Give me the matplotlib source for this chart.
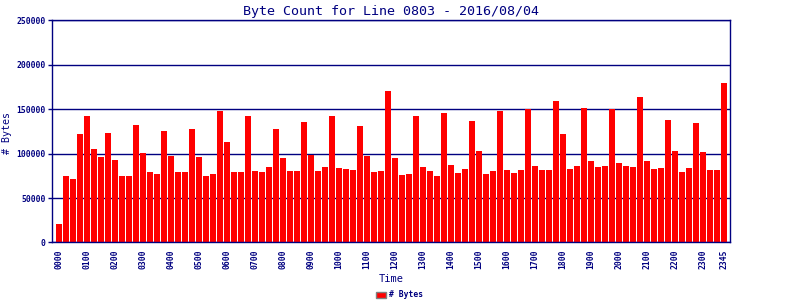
import matplotlib
matplotlib.use("Agg")
import matplotlib.pyplot as plt
import numpy as np

# 15-minute slots, 0000 .. 2345
times = [f"{h:02d}{m:02d}" for h in range(24) for m in (0, 15, 30, 45)]

byte_counts = [
    20300, 74400, 71000, 121800, 142100, 104900, 95900, 123000,
    92500, 74400, 74400, 132000, 100400, 79000, 76700, 125200,
    97000, 79000, 79000, 127500, 95900, 74400, 76700, 147800,
    112800, 79000, 79000, 142100, 80100, 79000, 84600, 127500,
    94800, 80100, 80100, 135400, 98100, 80100, 84600, 142100,
    83500, 82300, 81200, 130800, 97000, 79000, 80100, 170300,
    94800, 75600, 76700, 142100, 84600, 80100, 74400, 145500,
    86900, 77800, 82300, 136500, 102600, 76700, 80100, 147800,
    81200, 77800, 81200, 150000, 85700, 81200, 81200, 159000,
    121800, 82300, 85700, 151200, 91400, 84600, 85700, 150000,
    89100, 85700, 84600, 163600, 91400, 82300, 83500, 137600,
    102600, 79000, 83500, 134200, 101500, 81200, 81200, 179400,
]

y_ticks = [0, 50000, 100000, 150000, 200000, 250000]
navy = "#000080"
mono = "DejaVu Sans Mono"

fig = plt.figure(figsize=(8, 3), dpi=100)
ax = fig.add_axes([0.065, 0.192, 0.848, 0.740])

x = np.arange(len(times))
ax.bar(x, byte_counts, width=0.86, color="#ff0000", zorder=2, label="# Bytes")

ax.set_xlim(-1, len(times) - 0.07)
ax.set_ylim(0, 250000)

# x labels every hour plus the last slot
tick_idx = list(range(0, len(times), 4)) + [len(times) - 1]
ax.set_xticks(tick_idx)
ax.set_xticklabels([times[i] for i in tick_idx], rotation=90,
                   fontsize=5.8, family=mono, fontweight="bold", color=navy)
ax.set_yticks(y_ticks)
ax.set_yticklabels([str(v) for v in y_ticks], fontsize=5.8, family=mono,
                   fontweight="bold", color=navy)
ax.tick_params(axis="x", length=0, pad=5)
ax.tick_params(axis="y", length=3, width=1.0, color=navy, pad=1.5)

ax.grid(axis="y", color=navy, linewidth=1.0, zorder=1)
for s in ax.spines.values():
    s.set_color(navy)
    s.set_linewidth(1.0)

ax.set_title("Byte Count for Line 0803 - 2016/08/04", family=mono,
             fontsize=9.6, color=navy, pad=4)
ax.set_xlabel("Time", family=mono, fontsize=7.5, color=navy, labelpad=4)
fig.text(7.5 / 800, 1 - 133 / 300, "# Bytes", rotation=90, ha="center",
         va="center", family=mono, fontsize=7.2, color=navy)

leg = fig.legend(loc="center", bbox_to_anchor=(0.5, 0.017), frameon=False,
                 prop={"family": mono, "size": 5.8, "weight": "bold"},
                 handlelength=1.2, handleheight=0.8, handletextpad=0.4)
for t in leg.get_texts():
    t.set_color(navy)
for p in leg.get_patches():
    p.set_edgecolor("#808080")
    p.set_linewidth(1.0)

fig.savefig("out.png", dpi=100)
